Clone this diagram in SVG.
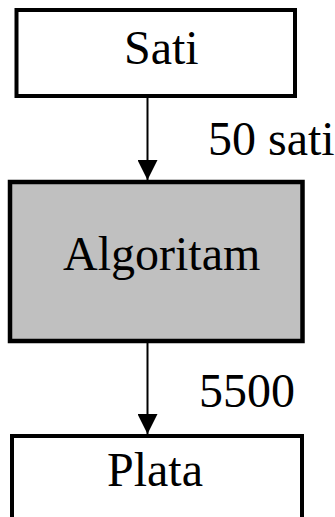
<svg xmlns="http://www.w3.org/2000/svg" width="335" height="517" viewBox="0 0 335 517">
  <style>
    .box { fill: #ffffff; stroke: #000000; stroke-width: 4; }
    .proc { fill: #c0c0c0; stroke: #000000; stroke-width: 4.5; }
    .lbl { font-family: "Liberation Serif", "Times New Roman", serif; font-size: 48px; fill: #000000; }
    .edge { stroke: #000000; stroke-width: 2; fill: none; }
  </style>
  <defs>
    <marker id="arrow" markerUnits="userSpaceOnUse" markerWidth="20" markerHeight="20" refX="20" refY="10" orient="auto">
      <path d="M0,0 L20,10 L0,20 Z" fill="#000000"/>
    </marker>
  </defs>

  <g id="connectors">
    <line class="edge" x1="147.5" y1="98" x2="147.5" y2="180" marker-end="url(#arrow)"/>
    <line class="edge" x1="147.5" y1="343" x2="147.5" y2="434" marker-end="url(#arrow)"/>
    <text class="lbl" x="208" y="155">50 sati</text>
    <text class="lbl" x="199" y="407">5500</text>
  </g>

  <g id="sati">
    <rect class="box" x="16.5" y="10" width="278.5" height="86"/>
    <text class="lbl" x="124" y="64">Sati</text>
  </g>

  <g id="algoritam">
    <rect class="proc" x="10" y="182" width="292.5" height="159"/>
    <text class="lbl" x="63" y="270">Algoritam</text>
  </g>

  <g id="plata">
    <rect class="box" x="12" y="436" width="290" height="100"/>
    <text class="lbl" x="107" y="486">Plata</text>
  </g>
</svg>
